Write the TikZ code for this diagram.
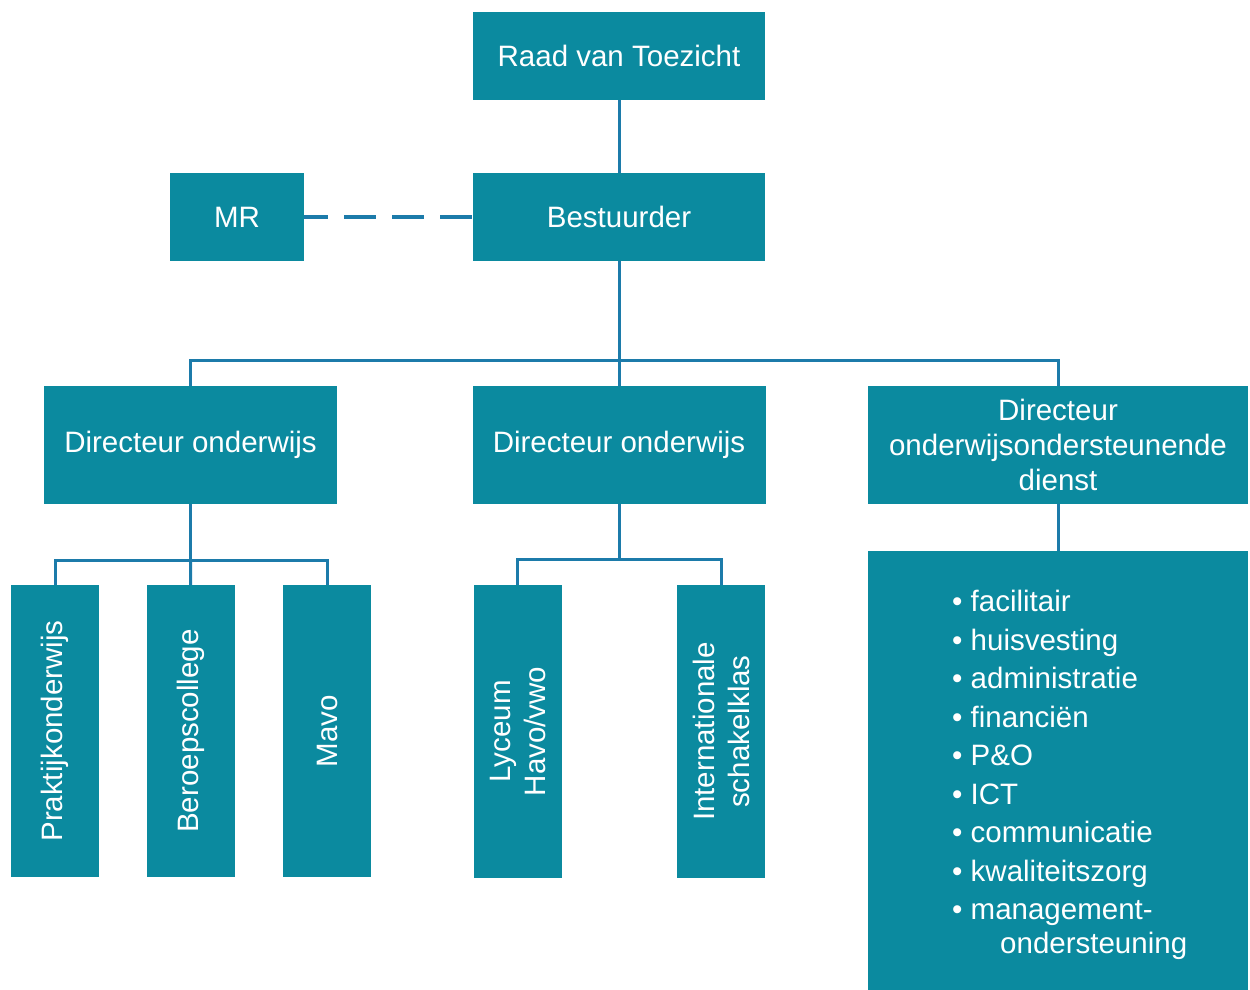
\documentclass[tikz,border=0pt]{standalone}
\usepackage{fontspec}
\setmainfont{Liberation Sans}
\usetikzlibrary{positioning}
\definecolor{boxteal}{HTML}{0B8A9F}
\definecolor{linkblue}{HTML}{1C7BAA}
\tikzset{
unit/.style={ % Sets the properties for each box
fill=boxteal,
text=white,
inner sep=0pt,
align=center,
font=\fontsize{29.5}{35}\selectfont},
topunit/.style={unit, minimum width=292, minimum height=88},
dirunit/.style={unit, minimum width=293, minimum height=118},
schoolunit/.style={unit, rotate=90, minimum width=292, minimum height=88},
link/.style={ % Solid lines of the tree
draw=linkblue,
line width=3pt},
dashlink/.style={ % Dashed line to the MR
draw=linkblue,
line width=4pt,
dash pattern=on 32pt off 16pt,
dash phase=8pt}}

\begin{document}
\begin{tikzpicture}[x=1pt, y=-1pt]
\useasboundingbox (0,0) rectangle (1250,990);
\node[topunit] (rvt) at (619,56) {Raad van Toezicht};
\node[topunit] (bst) at (619,217) {Bestuurder};
\node[unit, minimum width=134, minimum height=88] (mr) at (237,217) {MR};
\node[dirunit] (dirA) at (190.5,445) {Directeur onderwijs};
\node[dirunit] (dirB) at (619,445) {Directeur onderwijs};
\node[unit, minimum width=380, minimum height=118] (dirC) at (1058,445) {Directeur\\onderwijsondersteunende\\dienst};
\node[schoolunit] (prak) at (55,731) {Praktijkonderwijs};
\node[schoolunit] (beroep) at (191,731) {Beroepscollege};
\node[schoolunit] (mavo) at (327,731) {Mavo};
\node[schoolunit, minimum width=293] (lyceum) at (517.5,731.5) {Lyceum\\Havo/vwo};
\node[schoolunit, minimum width=293] (isk) at (721,731.5) {Internationale\\schakelklas};
\node[unit, minimum width=380, minimum height=439] (dienst) at (1058,770.5) {};
\node[text=white, inner sep=0pt, align=left, anchor=north west,
  font=\fontsize{29.5}{38.5}\selectfont] (taken) at (952,590)
  {\textbullet{} facilitair\\
   \textbullet{} huisvesting\\
   \textbullet{} administratie\\
   \textbullet{} financiën\\
   \textbullet{} P\&O\\
   \textbullet{} ICT\\
   \textbullet{} communicatie\\
   \textbullet{} kwaliteitszorg\\
   \textbullet{} management-\\[-4.5pt]
   \hspace{48pt}ondersteuning};
\coordinate (splitTop) at (619,360);
\coordinate (splitA) at (190.5,560);
\coordinate (splitB) at (619,559);
\draw[link] (rvt) -- (bst);
\draw[dashlink] (mr) -- (bst);
\draw[link] (bst) -- (splitTop);
\draw[link] (dirA) |- (splitTop) -| (dirC);
\draw[link] (splitTop) -- (dirB);
\draw[link] (dirA) -- (splitA);
\draw[link] (prak) |- (splitA) -| (mavo);
\draw[link] (splitA) -- (beroep);
\draw[link] (dirB) -- (splitB);
\draw[link] (lyceum) |- (splitB) -| (isk);
\draw[link] (dirC) -- (dienst);
\end{tikzpicture}
\end{document}
